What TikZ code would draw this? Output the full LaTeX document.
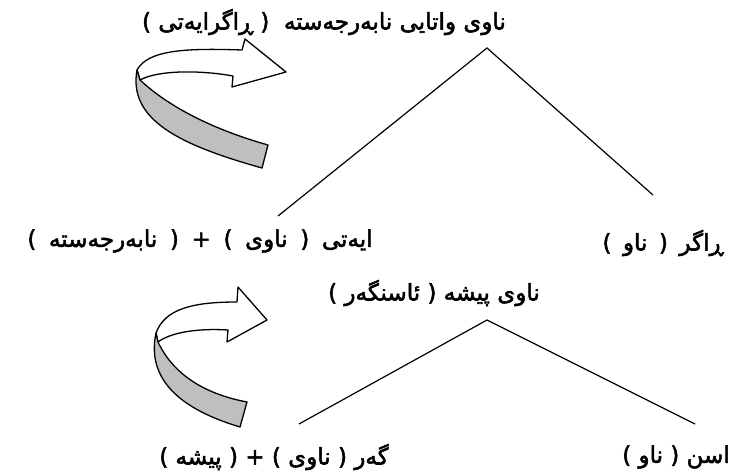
\documentclass[tikz,border=0pt]{standalone}
\usepackage{fontspec}
\newfontfamily\kurdfont[Script=Arabic, FakeBold=2.2]{DejaVu Sans}
\TeXXeTstate=1

\begin{document}
\begin{tikzpicture}[x=1pt, y=-1pt,
            lab/.style={font=\kurdfont\fontsize{23}{27}\selectfont, inner sep=0pt},
            widesum/.style={lab, font={\kurdfont\fontsize{23}{27}\selectfont\spaceskip 0.55em\relax}},
            wideroot/.style={lab, font={\kurdfont\fontsize{23}{27}\selectfont\spaceskip 0.5em\relax}},
            ln/.style={line width=1.2pt},
            band/.style={draw, line width=1.3pt, line join=round, fill=white},
            shade/.style={band, fill=black!25}
        ]
        \useasboundingbox (0,0) rectangle (733,471);

        % Nodes
        \node[lab] (abstract) at (324,22) {\beginR ناوی واتایی نابەرجەستە \ ( ڕاگرایەتی )\endR};
        \node[widesum] (sum1) at (200,241) {\beginR ایەتی ( ناوی ) + ( نابەرجەستە )\endR};
        \node[wideroot] (root1) at (663,243) {\beginR ڕاگر ( ناو )\endR};

        \node[lab] (trade) at (434,293) {\beginR ناوی پیشە ( ئاسنگەر )\endR};
        \node[lab] (sum2) at (274,457) {\beginR گەر ( ناوی ) + ( پیشە )\endR};
        \node[lab] (root2) at (676,457) {\beginR اسن ( ناو )\endR};

        % Upper tree
        \coordinate (top1) at (487,48);
        \coordinate (left1) at (278,216);
        \coordinate (right1) at (653,195);
        \draw[ln] (left1) -- (top1) -- (right1);

        % Lower tree
        \coordinate (top2) at (487,320);
        \coordinate (left2) at (299,424);
        \coordinate (right2) at (695,424);
        \draw[ln] (left2) -- (top2) -- (right2);

        % Upper turning arrow
        \draw[band] (137,70) .. controls (148,50) and (185,48) .. (242,50)
            -- (245,39) -- (286,72) -- (232,87) -- (233,76)
            .. controls (200,70) and (158,70) .. (140,80) -- cycle;
        \draw[shade] (137,70) -- (140,80) .. controls (170,108) and (215,130) .. (268,145)
            -- (262,168) .. controls (180,145) and (128,120) .. (137,70) -- cycle;

        % Lower turning arrow
        \draw[band] (156,333) .. controls (165,308) and (195,302) .. (237,302)
            -- (238,287) -- (267,320) -- (227,342) -- (228,330)
            .. controls (195,328) and (170,333) .. (158,342) -- cycle;
        \draw[shade] (156,333) -- (158,342) .. controls (175,378) and (210,395) .. (247,402)
            -- (240,427) .. controls (190,412) and (145,385) .. (156,333) -- cycle;

\end{tikzpicture}
\end{document}
